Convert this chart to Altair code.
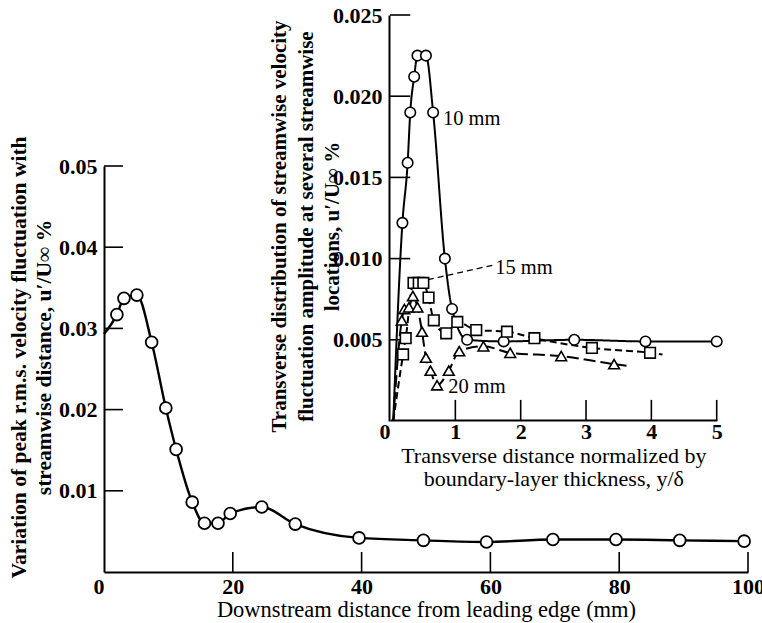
import altair as alt
import pandas as pd

FONT = "Liberation Serif"

# ---- main plot: peak r.m.s. fluctuation vs downstream distance ----
main_x = [0, 2.0, 3.1, 5.1, 7.4, 9.6, 11.2, 13.7, 15.6, 17.7, 19.6, 24.5, 29.7,
          39.6, 49.6, 59.4, 69.7, 79.5, 89.4, 99.4]
main_y = [0.0293, 0.0317, 0.0337, 0.0341, 0.0283, 0.0202, 0.0151, 0.0086, 0.0060,
          0.0060, 0.0072, 0.0080, 0.0059, 0.0042, 0.0039, 0.0037, 0.0040, 0.0040,
          0.0039, 0.0038]
main_marker = [False] + [True] * 19

main_xticks = [20, 40, 60, 80, 100]
main_yticks = [0.01, 0.02, 0.03, 0.04, 0.05]

# ---- inset: transverse distributions ----
x10 = [0.05, 0.19, 0.27, 0.31, 0.37, 0.42, 0.55, 0.66, 0.84, 0.95, 1.18, 1.74, 2.82, 3.91, 5.0]
y10 = [0.0, 0.0122, 0.0159, 0.0190, 0.0212, 0.0225, 0.0225, 0.0190, 0.0100, 0.0069,
       0.0050, 0.0049, 0.0050, 0.0049, 0.0049]
m10 = [False] + [True] * 14

x15 = [0.05, 0.20, 0.24, 0.36, 0.44, 0.51, 0.59, 0.67, 0.86, 1.03, 1.32, 1.79, 2.21,
       3.09, 3.98, 4.17]
y15 = [0.0, 0.0041, 0.0051, 0.0085, 0.0085, 0.0085, 0.0076, 0.0062, 0.0054, 0.0061,
       0.0056, 0.0055, 0.0051, 0.0045, 0.0042, 0.0041]
m15 = [False] + [True] * 14 + [False]

x20 = [0.05, 0.18, 0.22, 0.29, 0.35, 0.42, 0.49, 0.55, 0.62, 0.72, 0.90, 1.06, 1.43,
       1.84, 2.62, 3.43, 3.62]
y20 = [0.0, 0.0062, 0.0069, 0.0070, 0.0077, 0.0070, 0.0055, 0.0039, 0.0031, 0.0022,
       0.0031, 0.0043, 0.0046, 0.0042, 0.0040, 0.0035, 0.0034]
m20 = [False] + [True] * 15 + [False]

series = ["10 mm", "15 mm", "20 mm"]

inset_xticks = [1, 2, 3, 4, 5]
inset_yticks = [0.005, 0.010, 0.015, 0.020, 0.025]

label_text = ["10 mm", "15 mm", "20 mm"]
label_x = [0.81, 1.61, 0.89]
label_y = [0.0186, 0.0094, 0.0021]

leader_x, leader_y, leader_x2, leader_y2 = [0.58], [0.0087], [1.58], [0.0096]

# tick lengths expressed in each axis' data units (about 20 px), ticks point inward
MAIN_XTICK_LEN = 0.00246   # on the 0-0.05 scale (406 px)
MAIN_YTICK_LEN = 2.95      # on the 0-100 scale (644 px)
INSET_XTICK_LEN = 0.00130  # on the 0-0.025 scale (406 px)
INSET_YTICK_LEN = 0.31     # on the 0-5 scale (327 px)

# ---- tables ----
main_df = pd.DataFrame({"x": main_x, "y": main_y, "m": main_marker})
rows = []
for s, xs, ys, ms in zip(series, [x10, x15, x20], [y10, y15, y20], [m10, m15, m20]):
    for i, (a, b, c) in enumerate(zip(xs, ys, ms)):
        rows.append({"s": s, "i": i, "x": a, "y": b, "m": c})
inset_df = pd.DataFrame(rows)
lab_df = pd.DataFrame({"t": label_text, "x": label_x, "y": label_y})
lead_df = pd.DataFrame({"x": leader_x, "y": leader_y, "x2": leader_x2, "y2": leader_y2})

mxt_df = pd.DataFrame({"x": main_xticks, "y": [0.0] * len(main_xticks),
                       "y2": [MAIN_XTICK_LEN] * len(main_xticks)})
myt_df = pd.DataFrame({"y": main_yticks, "x": [0.0] * len(main_yticks),
                       "x2": [MAIN_YTICK_LEN] * len(main_yticks)})
ixt_df = pd.DataFrame({"x": inset_xticks, "y": [0.0] * len(inset_xticks),
                       "y2": [INSET_XTICK_LEN] * len(inset_xticks)})
iyt_df = pd.DataFrame({"y": inset_yticks, "x": [0.0] * len(inset_yticks),
                       "x2": [INSET_YTICK_LEN] * len(inset_yticks)})

common_axis = dict(grid=False, ticks=False, domainColor="black", domainWidth=2,
                   labelFont=FONT, labelFontSize=22, labelFontWeight="bold",
                   labelColor="black", titleFont=FONT, titleColor="black")

xm = alt.X("x:Q", scale=alt.Scale(domain=[0, 100], nice=False, zero=False),
           axis=alt.Axis(orient="bottom", values=[0, 20, 40, 60, 80, 100], format="d",
                         labelPadding=4,
                         labelExpr="datum.value == 0 ? '0\u2009' : datum.label",
                         labelAlign={"expr": "datum.value == 0 ? 'right' : 'center'"},
                         title="Downstream distance from leading edge (mm)",
                         titleFontSize=22.5, titleFontWeight="normal",
                         titleY=44, titleBaseline="alphabetic", **common_axis))
ym = alt.Y("y:Q", scale=alt.Scale(domain=[0, 0.05], nice=False, zero=False),
           axis=alt.Axis(orient="left", values=main_yticks, format=".2f",
                         labelPadding=7,
                         title=["Variation of peak r.m.s. velocity fluctuation with",
                                "streamwise distance, u\u2032/U\u221e %"],
                         titleFontSize=21.5, titleFontWeight="bold", titleLineHeight=25,
                         titlePadding=3, titleY=191, **common_axis))

tick_style = dict(color="black", strokeWidth=1.6)

main_line = alt.Chart(main_df).mark_line(interpolate="monotone", color="black",
                                         strokeWidth=2.4).encode(x=xm, y=ym)
main_pts = alt.Chart(main_df).transform_filter("datum.m").mark_point(
    shape="circle", filled=True, fill="white", stroke="black", strokeWidth=1.8,
    size=140, opacity=1).encode(x=xm, y=ym)
main_xt = alt.Chart(mxt_df).mark_rule(**tick_style).encode(x=xm, y=ym, y2="y2:Q")
main_yt = alt.Chart(myt_df).mark_rule(**tick_style).encode(x=xm, y=ym, x2="x2:Q")
main = alt.layer(main_line, main_xt, main_yt, main_pts)

xi = alt.X("x:Q", scale=alt.Scale(domain=[0, 5], range=[286, 612.7], nice=False, zero=False),
           axis=alt.Axis(orient="bottom", offset=-152, values=[0, 1, 2, 3, 4, 5], format="d",
                         labelPadding=1,
                         labelAlign={"expr": "datum.value == 0 ? 'right' : 'center'"},
                         title=["Transverse distance normalized by",
                                "boundary-layer thickness, y/\u03b4"],
                         titleFontSize=22, titleFontWeight="normal", titleLineHeight=23,
                         titlePadding=3, **common_axis))
yi = alt.Y("y:Q", scale=alt.Scale(domain=[0, 0.025], range=[255, -151], nice=False, zero=False),
           axis=alt.Axis(orient="left", offset=-285, values=inset_yticks,
                         format=".3f", labelPadding=7,
                         title=["Transverse distribution of streamwise velocity",
                                "fluctuation amplitude at several streamwise",
                                "locations, u\u2032/U\u221e %"],
                         titleFontSize=21, titleFontWeight="bold", titleLineHeight=26.5,
                         titlePadding=-10, titleY=60, **common_axis))

dash_scale = alt.Scale(domain=series, range=[[1, 0], [7, 4], [12, 5]])
shape_scale = alt.Scale(domain=series, range=["circle", "square", "triangle-up"])
size_scale = alt.Scale(domain=series, range=[110, 115, 105])

inset_lines = alt.Chart(inset_df).mark_line(interpolate="monotone", color="black",
                                            strokeWidth=2).encode(
    x=xi, y=yi, detail="s:N", order="i:Q",
    strokeDash=alt.StrokeDash("s:N", scale=dash_scale, legend=None))
inset_pts = alt.Chart(inset_df).transform_filter("datum.m").mark_point(
    filled=True, fill="white", stroke="black", strokeWidth=1.6, opacity=1).encode(
    x=xi, y=yi,
    shape=alt.Shape("s:N", scale=shape_scale, legend=None),
    size=alt.Size("s:N", scale=size_scale, legend=None))
leader = alt.Chart(lead_df).mark_rule(color="black", strokeWidth=1.3,
                                      strokeDash=[6, 4]).encode(x=xi, y=yi, x2="x2:Q", y2="y2:Q")
labels = alt.Chart(lab_df).mark_text(align="left", baseline="middle", font=FONT,
                                     fontSize=20.5, color="black").encode(x=xi, y=yi, text="t:N")
inset_xt = alt.Chart(ixt_df).mark_rule(**tick_style).encode(x=xi, y=yi, y2="y2:Q")
inset_yt = alt.Chart(iyt_df).mark_rule(**tick_style).encode(x=xi, y=yi, x2="x2:Q")
inset = alt.layer(inset_lines, inset_xt, inset_yt, leader, inset_pts, labels)

chart = alt.layer(main, inset).resolve_scale(x="independent", y="independent").resolve_axis(
    x="independent", y="independent").properties(
    width=644, height=406,
    autosize=alt.AutoSizeParams(type="none"),
    padding={"left": 104, "top": 166, "right": 14, "bottom": 51},
    background="white",
).configure_view(strokeWidth=0)

chart.save("out.html", embed_options={"renderer": "svg", "actions": False})
